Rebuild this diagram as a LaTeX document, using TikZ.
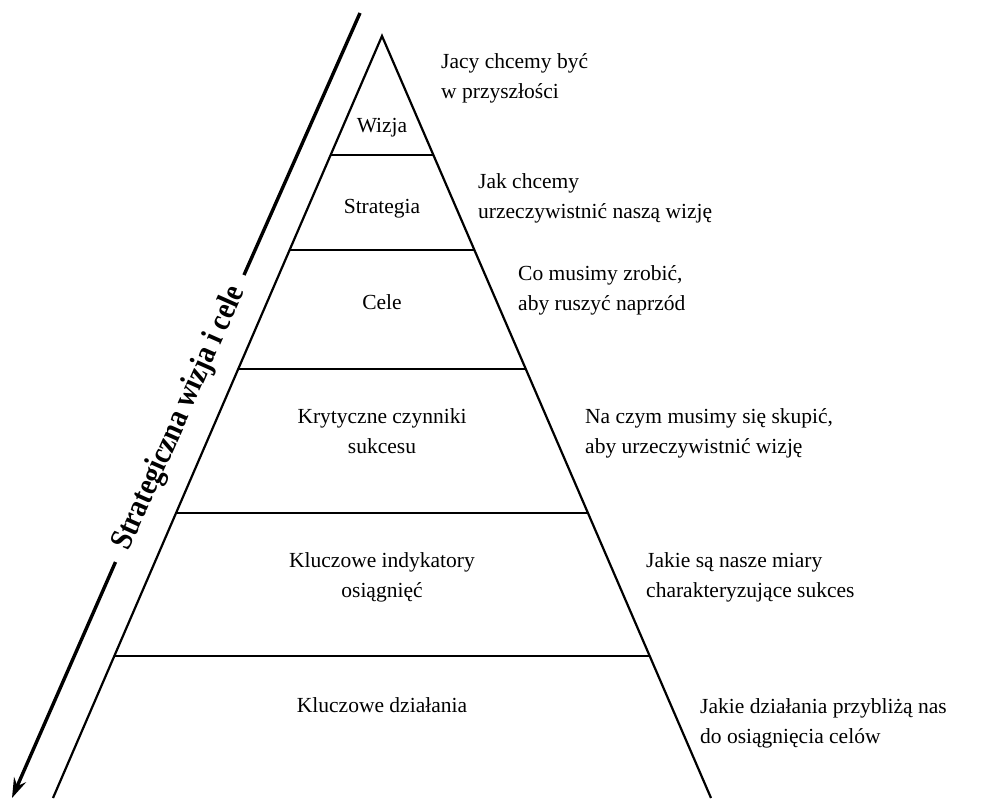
\documentclass[tikz,border=0pt]{standalone}
\usepackage{fontspec}
\setmainfont{Liberation Serif}
\usetikzlibrary{arrows.meta,calc}
\begin{document}
\begin{tikzpicture}[x=1pt,y=-1pt,
  pyr/.style={line width=2.2pt},
  axisline/.style={line width=3.4pt},
  lvl/.style={font=\fontsize{21.5}{30}\selectfont, align=center, anchor=base, inner sep=0pt},
  desc/.style={font=\fontsize{21.5}{30}\selectfont, align=left, anchor=base west, inner sep=0pt},
  axislabel/.style={font=\fontsize{32}{34}\selectfont\bfseries, inner sep=0pt, rotate=66.1, xscale=0.87}
]
\useasboundingbox (0,0) rectangle (988,798);
% pyramid
\coordinate (apex) at (382,36);
\coordinate (bl) at (53,798);
\coordinate (br) at (711,798);
\draw[pyr] (bl) -- (apex) -- (br);
\foreach \t [count=\i] in {0.15617,0.28084,0.43701,0.62598,0.81365}{
  \coordinate (L\i) at ($(apex)!\t!(bl)$);
  \coordinate (R\i) at ($(apex)!\t!(br)$);
  \draw[pyr] (L\i) -- (R\i);
}
% level labels (base anchor = baseline of the last line)
\node[lvl] (wizja) at (382,132) {Wizja};
\node[lvl] (strat) at (382,213) {Strategia};
\node[lvl] (cele) at (382,309) {Cele};
\node[lvl] (kcs) at (382,453) {Krytyczne czynniki\\sukcesu};
\node[lvl] (kio) at (382,597) {Kluczowe indykatory\\osiągnięć};
\node[lvl] (kd) at (382,712) {Kluczowe działania};
% descriptions
\node[desc] (d1) at (441,98) {Jacy chcemy być\\w przyszłości};
\node[desc] (d2) at (478,218) {Jak chcemy\\urzeczywistnić naszą wizję};
\node[desc] (d3) at (518,310) {Co musimy zrobić,\\aby ruszyć naprzód};
\node[desc] (d4) at (585,453) {Na czym musimy się skupić,\\aby urzeczywistnić wizję};
\node[desc] (d5) at (646,597) {Jakie są nasze miary\\charakteryzujące sukces};
\node[desc] (d6) at (700,743) {Jakie działania przybliżą nas\\do osiągnięcia celów};
% axis arrow
\coordinate (atop) at (360,13);
\coordinate (g1) at (244,275);
\coordinate (g2) at (115.5,562);
\coordinate (abot) at (12,798);
\node[axislabel] (axlbl) at ($(g1)!0.5!(g2)$) {Strategiczna wizja i cele};
\draw[axisline] (atop) -- (g1);
\draw[axisline,-{Stealth[length=20pt,width=13pt,inset=7pt]}] (g2) -- (abot);
\end{tikzpicture}
\end{document}
